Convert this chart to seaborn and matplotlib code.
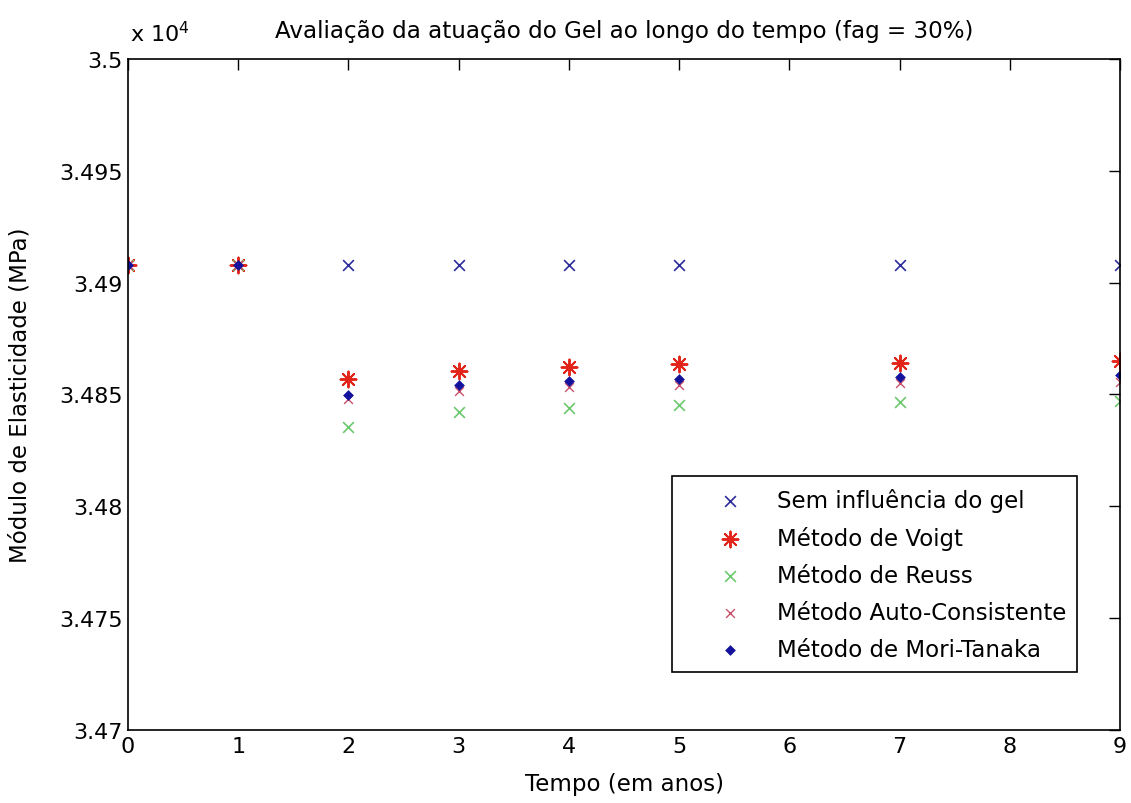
import matplotlib
matplotlib.use("Agg")
import matplotlib.pyplot as plt
import seaborn as sns
import pandas as pd
from matplotlib.ticker import FuncFormatter, MultipleLocator

# Elastic modulus (MPa) over time for each homogenisation method
tempo = [0, 1, 2, 3, 4, 5, 7, 9]
sem_gel = [34908.0, 34908.0, 34908.0, 34908.0, 34908.0, 34908.0, 34908.0, 34908.0]
voigt = [34908.0, 34908.0, 34856.9, 34860.4, 34862.4, 34863.6, 34863.9, 34865.1]
reuss = [34908.0, 34908.0, 34835.3, 34842.0, 34843.8, 34845.3, 34846.5, 34847.2]
auto_consistente = [34908.0, 34908.0, 34848.0, 34851.7, 34853.2, 34854.2, 34855.1, 34855.7]
mori_tanaka = [34908.0, 34908.0, 34849.9, 34854.4, 34855.9, 34856.9, 34858.0, 34858.9]

rotulos = ["Sem influência do gel", "Método de Voigt", "Método de Reuss",
           "Método Auto-Consistente", "Método de Mori-Tanaka"]

sns.set_style("white")
plt.rcParams["font.family"] = ["DejaVu Sans"]
plt.rcParams["text.color"] = "black"
plt.rcParams["axes.labelcolor"] = "black"
plt.rcParams["xtick.direction"] = "in"
plt.rcParams["ytick.direction"] = "in"

fig = plt.figure(figsize=(11.31, 8.04), dpi=100)
ax = fig.add_axes([0.1132, 0.0908, 0.8771, 0.8346])

estilos = [
    (sem_gel, dict(marker="x", s=60, color="#2b2b9c", linewidth=1.2)),
    (voigt, dict(marker=(8, 2, 0), s=130, color="#e2241a", linewidth=1.4)),
    (reuss, dict(marker="x", s=60, color="#6cc86c", linewidth=1.2)),
    (auto_consistente, dict(marker="x", s=40, color="#c8506a", linewidth=1.0)),
    (mori_tanaka, dict(marker="D", s=30, color="#12129c", linewidth=0)),
]

for (valores, kw), rotulo in zip(estilos, rotulos):
    df = pd.DataFrame({"tempo": tempo, "E": valores})
    sns.scatterplot(data=df, x="tempo", y="E", ax=ax, label=rotulo, **kw)

ax.set_xlim(0, 9)
ax.set_ylim(34700, 35000)
ax.xaxis.set_major_locator(MultipleLocator(1))
ax.yaxis.set_major_locator(MultipleLocator(50))
ax.yaxis.set_major_formatter(FuncFormatter(lambda v, p: f"{v / 1e4:g}"))
ax.tick_params(axis="both", which="major", length=8, width=1, colors="black",
               labelsize=16, top=True, right=True, pad=4)
for sp in ax.spines.values():
    sp.set_color("black")
    sp.set_linewidth(1.2)

ax.text(0.002, 1.02, r"x 10$^4$", transform=ax.transAxes, fontsize=16,
        ha="left", va="bottom")

ax.set_title("Avaliação da atuação do Gel ao longo do tempo (fag = 30%)",
             fontsize=16.6, pad=16)
ax.set_xlabel("Tempo (em anos)", fontsize=16.5, labelpad=12)
ax.set_ylabel("Módulo de Elasticidade (MPa)", fontsize=16.5, labelpad=20)

leg = ax.legend(loc="lower right", bbox_to_anchor=(0.957, 0.0864),
                borderaxespad=0, fontsize=16.5, frameon=True, fancybox=False,
                framealpha=1, edgecolor="black", labelspacing=0.61,
                handletextpad=0.05, borderpad=0.5, handlelength=4.0)
leg.get_frame().set_linewidth(1.2)

fig.savefig("out.png", dpi=100, facecolor="white")
